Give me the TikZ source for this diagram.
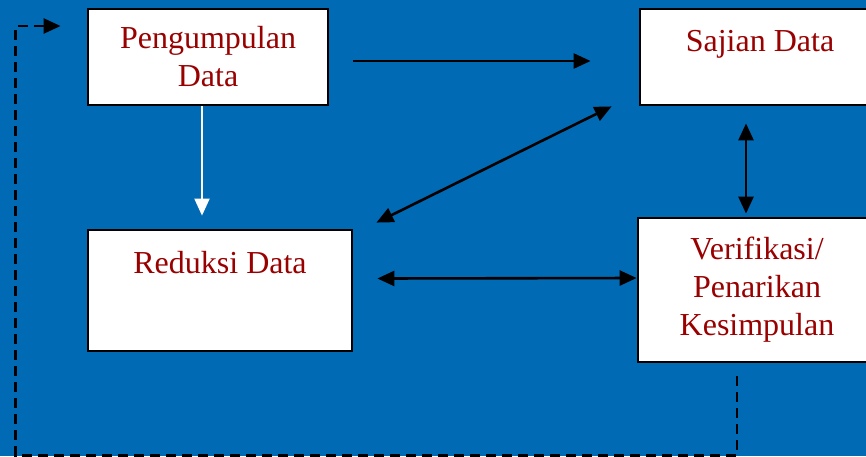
\documentclass[tikz,border=0pt]{standalone}
\usepackage{fontspec}
\setmainfont{Liberation Serif}
\usetikzlibrary{positioning,arrows.meta}
\definecolor{slideblue}{RGB}{0,106,180}
\definecolor{boxred}{RGB}{153,0,0}

\begin{document}
\begin{tikzpicture}[x=1pt,y=1pt,on grid,>={Triangle[length=17pt,width=15pt]},
line width=2.6pt,
box/.style={draw=black,line width=2.8pt,fill=white,text=boxred,align=center,
    font=\fontsize{32}{38}\selectfont},
boxtext/.style={text=boxred,inner sep=0pt,font=\fontsize{32}{38}\selectfont},
loopback/.style={dash pattern=on 10pt off 6pt,line width=2.4pt}
    ]
\fill[slideblue] (0,0) rectangle (866,-456);
\useasboundingbox (0,0) rectangle (866,-456);

\node[box,minimum width=240pt,minimum height=96pt] (peng) at (208,-57) {Pengumpulan\\Data};
\node[box,minimum width=240pt,minimum height=96pt] (sajian) [right=552pt of peng] {};
\node[boxtext] (sajianlabel) [below=21pt of sajian.north] {Sajian Data};
\node[box,minimum width=264pt,minimum height=121pt] (reduksi) [below right=233.5pt and 12pt of peng] {};
\node[boxtext] (reduksilabel) [below=21pt of reduksi.north] {Reduksi Data};
\node[box,minimum width=238pt,minimum height=144pt] (verif) [below left=233pt and 3pt of sajian] {Verifikasi/\\Penarikan\\Kesimpulan};

\coordinate (loopstart) at ([xshift=-20pt,yshift=-13pt]verif.south);
\coordinate (loopend) at ([xshift=-26pt,yshift=31pt]peng.west);

\draw[->] ([xshift=24pt,yshift=-4pt]peng.east) -- ([xshift=-48pt,yshift=-4pt]sajian.west);
\draw[->,white,line width=2pt] ([xshift=-6pt]peng.south) -- ([xshift=-18pt,yshift=13pt]reduksi.north);
\draw[<->] ([xshift=-27pt]sajian.south west) -- ([xshift=23pt,yshift=6pt]reduksi.north east);
\draw[<->] ([xshift=24pt,yshift=12pt]reduksi.east) -- ([yshift=12pt]verif.west);
\draw[<->] ([xshift=-14pt,yshift=-17pt]sajian.south) -- ([xshift=-11pt,yshift=3pt]verif.north);
\draw[->,loopback] (loopstart) -- ++(0,-79) -| ([xshift=-45pt]loopend) -- (loopend);
\end{tikzpicture}
\end{document}
